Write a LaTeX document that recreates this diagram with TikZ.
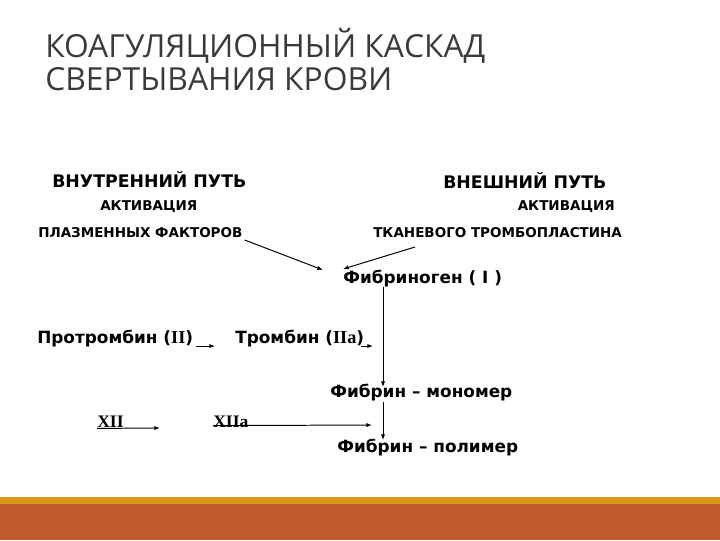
\documentclass[tikz,border=0pt]{standalone}
\usepackage{fontspec}
\setmainfont{DejaVu Sans}
\newfontfamily\titlefont{Open Sans}
\newfontfamily\romfont{Liberation Serif}
\usetikzlibrary{arrows.meta}
\usetikzlibrary{positioning}
\definecolor{titlegray}{RGB}{58,58,58}
\definecolor{bandgold}{RGB}{218,152,24}
\definecolor{bandrust}{RGB}{191,89,46}
\newcommand{\rn}[1]{{\romfont\fontsize{13}{13}\selectfont #1}}
\tikzset{
  ttl/.style={font=\titlefont\fontsize{22.6}{24}\selectfont,text=titlegray,inner sep=0pt,anchor=base west},
  head/.style={font=\bfseries\fontsize{12.3}{14}\selectfont,inner sep=0pt,anchor=base west},
  lbl/.style={font=\bfseries\fontsize{9.6}{12}\selectfont,inner sep=0pt,anchor=base west},
  sub/.style={font=\bfseries\fontsize{12}{13}\selectfont,inner sep=0pt,anchor=base west},
  rom/.style={font=\romfont\bfseries\fontsize{12.5}{13}\selectfont,inner sep=0pt,anchor=base west},
  arr/.style={-{Latex[length=4pt,width=3pt]},line width=0.7pt}
}
\begin{document}
\begin{tikzpicture}[x=0.025cm,y=-0.025cm]
\useasboundingbox (0,0) rectangle (720,540);
% title
\node[ttl] (t1) at (45,57) {КОАГУЛЯЦИОННЫЙ КАСКАД};
\node[ttl] (t2) at (45,90) {СВЕРТЫВАНИЯ КРОВИ};

% two pathways
\node[head] (inner) at (52,187) {ВНУТРЕННИЙ ПУТЬ};
\node[lbl] (act1) at (100,210) {АКТИВАЦИЯ};
\node[lbl] (plasma) at (38,237) {ПЛАЗМЕННЫХ ФАКТОРОВ};
\node[head] (outer) at (443,188) {ВНЕШНИЙ ПУТЬ};
\node[lbl,anchor=base east] (act2) at (615,210) {АКТИВАЦИЯ};
\node[lbl] (tissue) at (373,237) {ТКАНЕВОГО ТРОМБОПЛАСТИНА};

% cascade
\node[sub] (fbg) at (343,283) {Фибриноген ( I )};
\node[sub] (prot) at (37,343) {Протромбин (\rn{II})};
\node[sub] (thr) at (235,343) {Тромбин (\rn{IIa})};
\node[sub] (mono) at (330,397) {Фибрин – мономер};
\node[rom] (xii) at (97,427) {XII};
\node[rom] (xiia) at (213,427) {XIIa};
\node[sub] (poly) at (337,452) {Фибрин – полимер};

\coordinate (fbgL) at (323,270);
\coordinate (fbgR) at (343,269);
\coordinate (protE) at (215,346);
\coordinate (thrE) at (373,346);
\coordinate (xiiE) at (160,428);
\coordinate (xiiaE) at (372,425);

\draw[arr] ([shift={(2,3)}]plasma.base east) -- (fbgL);
\draw[arr] ([shift={(42,10)}]tissue.base west) -- (fbgR);
\draw[arr] ([shift={(40,4)}]fbg.base west) -- ([shift={(53,-10)}]mono.base west);
\draw[arr] ([shift={(53,5)}]mono.base west) -- ([shift={(46,-12)}]poly.base west);
\draw[arr] ([shift={(3,3)}]prot.base east) -- (protE);
\draw[arr] ([shift={(-3,3)}]thr.base east) -- (thrE);
\draw[arr] ([yshift=-1pt]xii.base west) -- (xiiE);
\draw[arr] ([yshift=1pt]xiia.base west) -- (xiiaE);

% bottom band
\fill[bandgold] (0,497) rectangle (720,504);
\fill[bandrust] (0,504) rectangle (720,540);
\end{tikzpicture}
\end{document}
